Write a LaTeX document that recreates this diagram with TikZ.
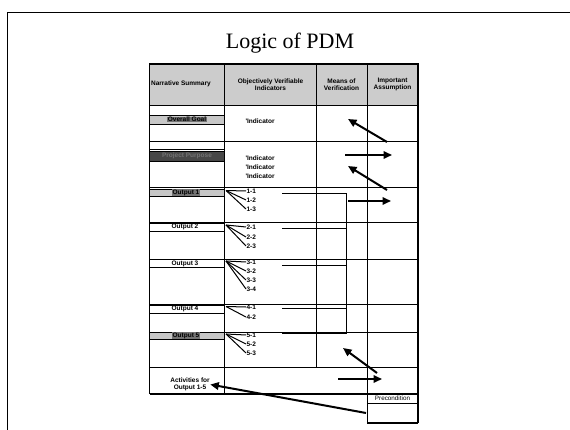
\documentclass[tikz,border=0pt]{standalone}
\usepackage{fontspec}
\setmainfont{Liberation Serif}
\newfontfamily\cellfont{Liberation Sans}
\usetikzlibrary{arrows.meta}

\begin{document}
\begin{tikzpicture}[x=1pt,y=-1pt,
  cell/.style={font=\cellfont\bfseries\fontsize{6.5}{7.2}\selectfont, inner sep=0.4pt, align=center},
  lbl/.style={font=\cellfont\bfseries\fontsize{6.5}{7.2}\selectfont, inner sep=0.4pt, anchor=west},
  rowrule/.style={line width=1pt},
  colrule/.style={line width=0.8pt},
  thin/.style={line width=0.6pt},
  fan/.style={line width=1pt},
  bracket/.style={line width=0.8pt},
  band/.style={draw, line width=0.6pt},
  bigarrow/.style={line width=2pt, -{Triangle[length=8.5pt,width=7.5pt]}}]
\useasboundingbox (0,0) rectangle (570,430);

% slide frame
\draw[line width=1.2pt] (7.5,430) -- (7.5,12.5) -- (570,12.5);

% title
\node (title) at (290,43) {\fontsize{22}{24}\selectfont Logic of PDM};

% header band
\fill[black!20] (149.5,64) rectangle (418,106);

% outer border and columns
\draw[line width=1.2pt] (149.5,394) -- (149.5,64) -- (418,64) -- (418,423);
\draw[colrule] (224.5,64) -- (224.5,394);
\draw[colrule] (316.5,64) -- (316.5,367);
\draw[colrule] (367,64) -- (367,423);

% row rules
\draw[rowrule] (149.5,106) -- (418,106);
\draw[line width=1.8pt] (149.5,141.5) -- (418,141.5);
\draw[rowrule] (149.5,188) -- (418,188);
\draw[rowrule] (149.5,223) -- (418,223);
\draw[rowrule] (149.5,259.5) -- (418,259.5);
\draw[rowrule] (149.5,304.5) -- (418,304.5);
\draw[rowrule] (149.5,332) -- (418,332);
\draw[rowrule] (149.5,367) -- (418,367);
\draw[line width=1.2pt] (149.5,394) -- (418,394);
\draw[thin] (367,403) -- (418,403);
\draw[line width=1.2pt] (367,423) -- (418,423);

% header texts
\node[cell, anchor=west] (hns) at (150.5,84) {Narrative Summary};
\node[cell] (hovi) at (270.5,84.5) {Objectively Verifiable\\Indicators};
\node[cell] (hmov) at (341.5,84.5) {Means of\\Verification};
\node[cell] (hia) at (392.5,84.5) {Important\\Assumption};

% narrative column bands
\filldraw[band, fill=black!22] (149.5,115) rectangle (224.5,124);
\node[cell, fill=black!55] (goal) at (187,119.5) {Overall Goal};
\draw[thin] (149.5,149.5) -- (224.5,149.5);
\filldraw[band, fill=black!72] (149.5,151) rectangle (224.5,161);
\node[cell, text=black!55] (purpose) at (187,156) {Project Purpose};
\filldraw[band, fill=black!22] (149.5,189) rectangle (224.5,196);
\node[cell, fill=black!55] (o1) at (186,192.5) {Output 1};
\draw[band] (149.5,223) rectangle (224.5,231);
\node[cell] (o2) at (185,227) {Output 2};
\draw[band] (149.5,259.5) rectangle (224.5,267.5);
\node[cell] (o3) at (185,263.5) {Output 3};
\draw[band] (149.5,305) rectangle (224.5,313);
\node[cell] (o4) at (185,309) {Output 4};
\filldraw[band, fill=black!22] (149.5,332) rectangle (224.5,339.5);
\node[cell, fill=black!55] (o5) at (186,335.5) {Output 5};
\node[cell] (act) at (190,384.5) {Activities for\\Output 1-5};

% indicators
\node[cell, anchor=west] (ig) at (245,121) {'Indicator};
\node[cell, anchor=west] (ip1) at (245,158) {'Indicator};
\node[cell, anchor=west] (ip2) at (245,167) {'Indicator};
\node[cell, anchor=west] (ip3) at (245,176) {'Indicator};

% sub-indicator fans
\coordinate (f1) at (226,190.5);
\node[lbl] (i11) at (246,191) {1-1};
\node[lbl] (i12) at (246,200) {1-2};
\node[lbl] (i13) at (246,209) {1-3};
\foreach \t in {i11,i12,i13} \draw[fan] (f1) -- (\t.west);

\coordinate (f2) at (226,225);
\node[lbl] (i21) at (246,227) {2-1};
\node[lbl] (i22) at (246,237) {2-2};
\node[lbl] (i23) at (246,246) {2-3};
\foreach \t in {i21,i22,i23} \draw[fan] (f2) -- (\t.west);

\coordinate (f3) at (226,261);
\node[lbl] (i31) at (246,262) {3-1};
\node[lbl] (i32) at (246,271) {3-2};
\node[lbl] (i33) at (246,280) {3-3};
\node[lbl] (i34) at (246,289) {3-4};
\foreach \t in {i31,i32,i33,i34} \draw[fan] (f3) -- (\t.west);

\coordinate (f4) at (226,306.5);
\node[lbl] (i41) at (246,307) {4-1};
\node[lbl] (i42) at (246,317) {4-2};
\foreach \t in {i41,i42} \draw[fan] (f4) -- (\t.west);

\coordinate (f5) at (226,334);
\node[lbl] (i51) at (246,335) {5-1};
\node[lbl] (i52) at (246,344) {5-2};
\node[lbl] (i53) at (246,353) {5-3};
\foreach \t in {i51,i52,i53} \draw[fan] (f5) -- (\t.west);

% bracket gathering the output indicators
\coordinate (b1) at (346,193);
\coordinate (b5) at (346,333);
\draw[bracket] (282,193) -- (b1) -- (b5) -- (282,333);
\draw[bracket] (282,228) -- (346,228);
\draw[bracket] (282,265.5) -- (346,265.5);
\draw[bracket] (282,308) -- (346,308);

% logic arrows
\coordinate (a1s) at (387,142); \coordinate (a1e) at (348,119);
\coordinate (a2s) at (345,155); \coordinate (a2e) at (392,155);
\coordinate (a3s) at (387,190); \coordinate (a3e) at (348,166);
\coordinate (a4s) at (348,201); \coordinate (a4e) at (391,201);
\coordinate (a5s) at (377,373); \coordinate (a5e) at (343,348);
\coordinate (a6s) at (338,379); \coordinate (a6e) at (382,379);
\coordinate (a7s) at (366,413);
\draw[bigarrow] (a1s) -- (a1e);
\draw[bigarrow] (a2s) -- (a2e);
\draw[bigarrow] (a3s) -- (a3e);
\draw[bigarrow] (a4s) -- (a4e);
\draw[bigarrow] (a5s) -- (a5e);
\draw[bigarrow] (a6s) -- (a6e);
\draw[bigarrow] (a7s) -- (act.east);

% precondition box
\node[cell, font=\cellfont\fontsize{6.3}{7}\selectfont] (pre) at (392.5,398.5) {Precondition};
\end{tikzpicture}
\end{document}
